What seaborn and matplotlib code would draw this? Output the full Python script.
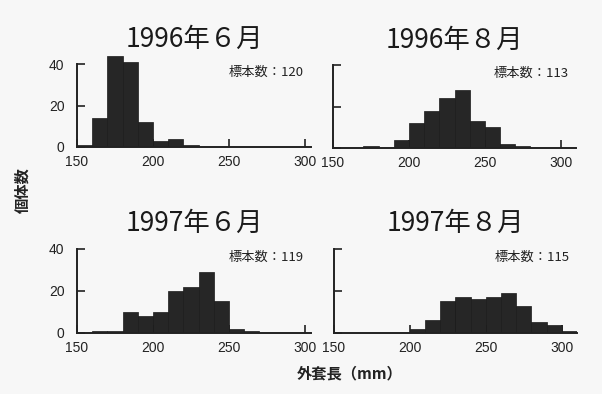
import numpy as np
import pandas as pd
import seaborn as sns
import matplotlib.pyplot as plt

sns.set_theme(style="white")
plt.rcParams['font.family'] = ['Noto Sans CJK JP', 'DejaVu Sans']

# Shell length bins (mm), 10 mm wide
bin_left = [150, 160, 170, 180, 190, 200, 210, 220, 230, 240, 250, 260, 270, 280, 290, 300]

# Counts per bin for each sampling
counts_9606 = [1, 14, 44, 41, 12, 3, 4, 1, 0, 0, 0, 0, 0, 0, 0, 0]
counts_9608 = [0, 0, 1, 0, 4, 12, 18, 24, 28, 13, 10, 2, 1, 0, 0, 0]
counts_9706 = [0, 1, 1, 10, 8, 10, 20, 22, 29, 15, 2, 1, 0, 0, 0, 0]
counts_9708 = [0, 0, 0, 0, 0, 2, 6, 15, 17, 16, 17, 19, 13, 5, 4, 1]

titles = ["1996年６月", "1996年８月", "1997年６月", "1997年８月"]
sample_sizes = [120, 113, 119, 115]
y_ticks = [0, 20, 40]
x_ticks = [150, 200, 250, 300]

W, H = 602, 394
fig = plt.figure(figsize=(W / 100, H / 100), dpi=100)
fig.patch.set_facecolor("#f7f7f7")

def box(left, right, top, bottom):
    return [left / W, 1 - bottom / H, (right - left) / W, (bottom - top) / H]

panels = [
    (box(77, 311, 54, 147), counts_9606, (150, 304), True),
    (box(333, 576, 55, 148), counts_9608, (150, 310), False),
    (box(77, 311, 238, 333), counts_9706, (150, 304), True),
    (box(334, 577, 238, 333), counts_9708, (150, 310), False),
]

edges = bin_left + [310]
for i, (rect, counts, xlim, show_y) in enumerate(panels):
    ax = fig.add_axes(rect)
    ax.set_facecolor("none")
    df = pd.DataFrame({"length": [b + 5 for b in bin_left], "n": counts})
    sns.histplot(data=df, x="length", weights="n", bins=edges, ax=ax,
                 color="#262626", edgecolor="#1a1a1a", linewidth=0.5, alpha=1)
    ax.set_xlim(*xlim)
    ax.set_ylim(0, 45)
    ax.set_xlabel("")
    ax.set_ylabel("")
    ax.set_xticks(x_ticks)
    ax.set_yticks(y_ticks)
    ax.tick_params(direction="in", length=6, width=1.2, color="#222",
                   labelsize=10, labelcolor="#222", left=True, bottom=True)
    ax.tick_params(axis="x", pad=6)
    ax.tick_params(axis="y", pad=9)
    for lab in ax.get_xticklabels() + ax.get_yticklabels():
        lab.set_family(["Liberation Sans", "DejaVu Sans"])
    if not show_y:
        ax.set_yticklabels([])
    for s in ["top", "right"]:
        ax.spines[s].set_visible(False)
    for s in ["left", "bottom"]:
        ax.spines[s].set_color("#222")
        ax.spines[s].set_linewidth(1.4)
    ax.spines["left"].set_bounds(0, 40)
    ax.set_title(titles[i], fontsize=19, color="#1a1a1a", pad=5)
    ax.text(0.97, 0.80, f"標本数：{sample_sizes[i]}", transform=ax.transAxes,
            ha="right", va="center", fontsize=9.5, color="#222")

fig.text(22 / W, 1 - 190 / H, "個体数", rotation=90, ha="center", va="center",
         fontsize=11, color="#222", fontweight="bold")
fig.text(350 / W, 1 - 373 / H, "外套長（mm）", ha="center", va="center",
         fontsize=11, color="#222", fontweight="bold")

fig.savefig("out.png", dpi=100, facecolor=fig.get_facecolor())
